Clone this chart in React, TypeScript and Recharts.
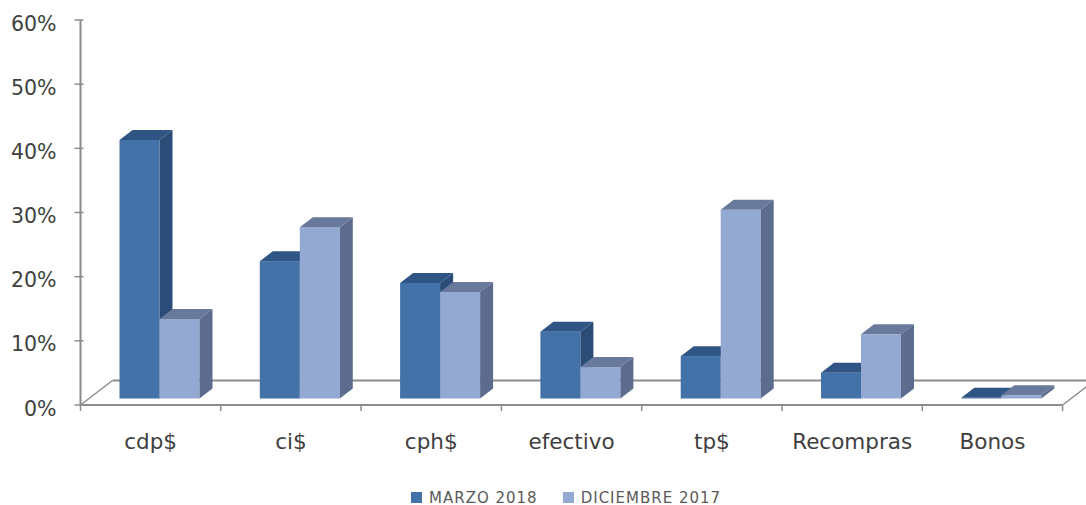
import React from 'react';
import { BarChart, Bar, XAxis, YAxis, Legend, ReferenceLine } from 'recharts';

const categories = ['cdp$', 'ci$', 'cph$', 'efectivo', 'tp$', 'Recompras', 'Bonos'];
const marzo2018 = [40.3, 21.4, 18.0, 10.4, 6.6, 4.0, 0.1];
const diciembre2017 = [12.4, 26.7, 16.6, 4.9, 29.4, 10.0, 0.5];
const yTicks = [0, 10, 20, 30, 40, 50, 60];

const chartData = categories.map((name, i) => ({
  name,
  marzo: marzo2018[i],
  diciembre: diciembre2017[i],
}));

const AXIS_COLOR = '#8c8c8c';
const TEXT_COLOR = '#404040';
const FONT = '"DejaVu Sans", Verdana, sans-serif';

// 3D look: bars sit in the middle of the floor depth
const DEPTH_X = 13;
const DEPTH_Y = 10;
const SHIFT_X = 9;
const SHIFT_Y = 6.5;

function makeBar3D(front: string, top: string, side: string) {
  return function Bar3D(props: any) {
    const x = props.x + SHIFT_X;
    const y = props.y - SHIFT_Y;
    const w = props.width;
    const h = props.height;
    return (
      <g>
        <rect x={x} y={y} width={w} height={h} fill={front} />
        <polygon
          points={`${x},${y} ${x + DEPTH_X},${y - DEPTH_Y} ${x + w + DEPTH_X},${y - DEPTH_Y} ${x + w},${y}`}
          fill={top}
        />
        <polygon
          points={`${x + w},${y} ${x + w + DEPTH_X},${y - DEPTH_Y} ${x + w + DEPTH_X},${y + h - DEPTH_Y} ${x + w},${y + h}`}
          fill={side}
        />
      </g>
    );
  };
}

// Floor of the 3D plot plus the x axis ticks on the category boundaries
function Floor(props: any) {
  const { x1, x2, y1 } = props;
  const step = (x2 - x1) / categories.length;
  const backX = x1 + 32;
  const backY = y1 - 24.5;
  return (
    <g stroke={AXIS_COLOR} fill="none" strokeWidth={1.5}>
      <line x1={x1} y1={y1} x2={x2} y2={y1} strokeWidth={2} />
      <line x1={x1} y1={y1} x2={backX} y2={backY} />
      <line x1={backX} y1={backY} x2={1086} y2={backY} strokeWidth={2} />
      <line x1={x2} y1={y1} x2={x2 + 32} y2={backY} />
      {categories.map((c, i) => (
        <line key={c} x1={x1 + step * i} y1={y1} x2={x1 + step * i} y2={y1 + 6} />
      ))}
      <line x1={x2} y1={y1} x2={x2} y2={y1 + 6} />
    </g>
  );
}

// Y tick label with a tick mark that crosses the axis line
function YTick(props: any) {
  const { x, y, payload } = props;
  return (
    <g>
      <line x1={x + 18} y1={y} x2={x + 27} y2={y} stroke={AXIS_COLOR} strokeWidth={1.5} />
      <text x={x} y={y} dy={10.5} textAnchor="end" fill={TEXT_COLOR} fontSize={20.5} fontFamily={FONT}>
        {`${payload.value}%`}
      </text>
    </g>
  );
}

function LegendBox({ payload }: any) {
  return (
    <div style={{ display: 'flex', alignItems: 'center', fontFamily: FONT, fontSize: 15, letterSpacing: 1, color: '#595959' }}>
      {(payload || []).map((item: any) => (
        <span key={item.value} style={{ display: 'flex', alignItems: 'center', marginRight: 25 }}>
          <span style={{ width: 11, height: 11, background: item.color, marginRight: 7 }} />
          {item.value}
        </span>
      ))}
    </div>
  );
}

export default function App() {
  return (
    <div style={{ position: 'absolute', left: 0, top: 0, width: 1086, height: 505, background: '#fff' }}>
      <BarChart
        width={1086}
        height={505}
        data={chartData}
        barCategoryGap={30}
        barGap={0}
        margin={{ top: 20, right: 23.4, bottom: 0, left: 0 }}
      >
        <YAxis
          width={80.5}
          domain={[0, 60]}
          ticks={yTicks}
          interval={0}
          tick={<YTick />}
          tickSize={0}
          tickMargin={24}
          axisLine={{ stroke: AXIS_COLOR, strokeWidth: 2 }}
          tickLine={false}
        />
        <XAxis
          dataKey="name"
          height={80}
          interval={0}
          axisLine={false}
          tickLine={false}
          tickMargin={23}
          tick={{ fill: TEXT_COLOR, fontSize: 21.5, fontFamily: FONT }}
        />
        <ReferenceLine y={0} shape={<Floor />} zIndex={-1} />
        <Bar
          dataKey="marzo"
          name="MARZO 2018"
          fill="#4272a8"
          isAnimationActive={false}
          shape={makeBar3D('#4272a8', '#2f5585', '#2c4c78')}
        />
        <Bar
          dataKey="diciembre"
          name="DICIEMBRE 2017"
          fill="#93a9d1"
          isAnimationActive={false}
          shape={makeBar3D('#93a9d1', '#68799c', '#5d6c8e')}
        />
        <Legend
          itemSorter={null}
          content={<LegendBox />}
          wrapperStyle={{ left: 411, top: 488.5, width: 340, height: 20 }}
        />
      </BarChart>
    </div>
  );
}
